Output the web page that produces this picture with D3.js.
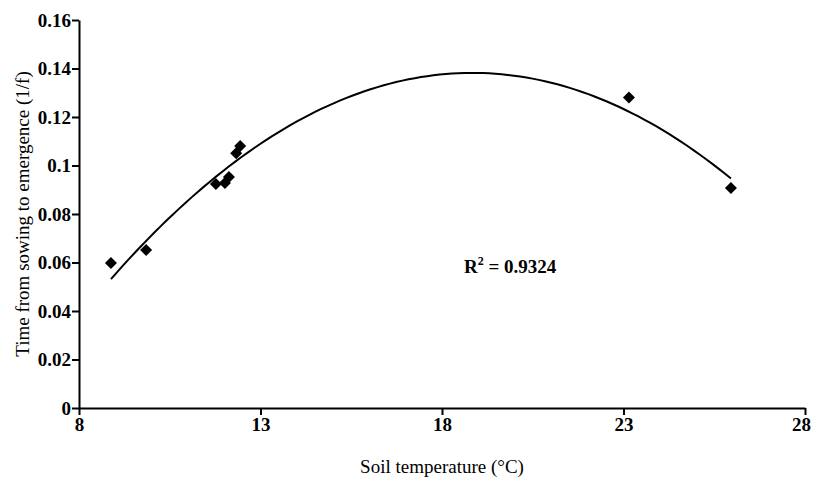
<!DOCTYPE html>
<html>
<head>
<meta charset="utf-8">
<script src="https://cdn.jsdelivr.net/npm/d3@7"></script>
<style>
  body { margin: 0; background: #fff; }
  svg { display: block; font-family: "Liberation Serif", "Times New Roman", serif; }
  .axis path, .axis line { stroke: #000; stroke-width: 2; }
  .axis text { font-size: 19px; font-weight: bold; fill: #000; }
</style>
</head>
<body>
<svg id="chart" width="813" height="478"></svg>
<script>
// soil temperature (°C) and rate of emergence (1/f)
var soilTemp = [8.88, 9.85, 11.77, 12.02, 12.13, 12.33, 12.44, 23.15, 25.96];
var rate     = [0.0598, 0.0652, 0.0924, 0.0928, 0.0953, 0.105, 0.108, 0.128, 0.0907];
var xTicks = [8, 13, 18, 23, 28];
var yTicks = [0, 0.02, 0.04, 0.06, 0.08, 0.1, 0.12, 0.14, 0.16];
var r2Label = "0.9324";

var svg = d3.select("#chart"),
    margin = {top: 20, right: 8, bottom: 70, left: 79},
    width = svg.attr("width") - margin.left - margin.right,
    height = svg.attr("height") - margin.top - margin.bottom,
    g = svg.append("g").attr("transform", "translate(" + margin.left + "," + margin.top + ")");

var x = d3.scaleLinear().domain([8, 28]).range([0, width]),
    y = d3.scaleLinear().domain([0, 0.16]).range([height, 0]);

var points = soilTemp.map(function(t, i) { return {t: t, r: rate[i]}; });

// least squares quadratic fit  r = c0 + c1 t + c2 t^2
function quadFit(pts) {
  var s = [0, 0, 0, 0, 0], b = [0, 0, 0];
  pts.forEach(function(p) {
    var p1 = 1;
    for (var k = 0; k < 5; k++) { s[k] += p1; if (k < 3) b[k] += p1 * p.r; p1 *= p.t; }
  });
  var A = [[s[0], s[1], s[2], b[0]], [s[1], s[2], s[3], b[1]], [s[2], s[3], s[4], b[2]]];
  for (var i = 0; i < 3; i++) {
    for (var j = i + 1; j < 3; j++) {
      var f = A[j][i] / A[i][i];
      for (var k = i; k < 4; k++) A[j][k] -= f * A[i][k];
    }
  }
  var c = [0, 0, 0];
  for (var i = 2; i >= 0; i--) {
    var v = A[i][3];
    for (var k = i + 1; k < 3; k++) v -= A[i][k] * c[k];
    c[i] = v / A[i][i];
  }
  return c;
}
var c = quadFit(points);
var tMin = d3.min(soilTemp), tMax = d3.max(soilTemp);
var curve = d3.range(0, 101).map(function(i) {
  var t = tMin + (tMax - tMin) * i / 100;
  return {t: t, r: c[0] + c[1] * t + c[2] * t * t};
});

var serif = '"Liberation Serif", "Times New Roman", serif';

var xAxis = g.append("g")
    .attr("class", "axis")
    .attr("transform", "translate(0," + height + ")")
  .call(d3.axisBottom(x).tickValues(xTicks).tickSize(7).tickPadding(3).tickSizeOuter(0))
    .attr("font-family", serif);
// last label sits against the right edge
xAxis.selectAll(".tick text")
    .filter(function(d) { return d === xTicks[xTicks.length - 1]; })
    .attr("dx", -4);

g.append("g")
    .attr("class", "axis")
  .call(d3.axisLeft(y).tickValues(yTicks).tickSize(7).tickPadding(1).tickSizeOuter(0)
    .tickFormat(function(d) { return d3.format("")(+d.toFixed(2)); }))
    .attr("font-family", serif);

var line = d3.line()
    .x(function(d) { return x(d.t); })
    .y(function(d) { return y(d.r); });

g.append("path")
    .datum(curve)
    .attr("d", line)
    .attr("fill", "none")
    .attr("stroke", "#000")
    .attr("stroke-width", 2);

g.selectAll(".point")
    .data(points)
  .enter().append("path")
    .attr("class", "point")
    .attr("d", d3.symbol().type(d3.symbolSquare).size(72))
    .attr("transform", function(d) { return "translate(" + x(d.t) + "," + y(d.r) + ") rotate(45)"; })
    .attr("fill", "#000");

var r2 = svg.append("text")
    .attr("x", 464)
    .attr("y", 273)
    .attr("font-size", 19)
    .attr("font-weight", "bold");
r2.append("tspan").text("R");
r2.append("tspan").attr("font-size", 12).attr("dy", -8).text("2");
r2.append("tspan").attr("dy", 8).text(" = " + r2Label);

svg.append("text")
    .attr("x", margin.left + width / 2)
    .attr("y", 473)
    .attr("text-anchor", "middle")
    .attr("font-size", 19)
    .text("Soil temperature (°C)");

svg.append("text")
    .attr("transform", "translate(29," + (margin.top + height / 2) + ") rotate(-90)")
    .attr("text-anchor", "middle")
    .attr("font-size", 19)
    .text("Time from sowing to emergence (1/f)");
</script>
</body>
</html>
